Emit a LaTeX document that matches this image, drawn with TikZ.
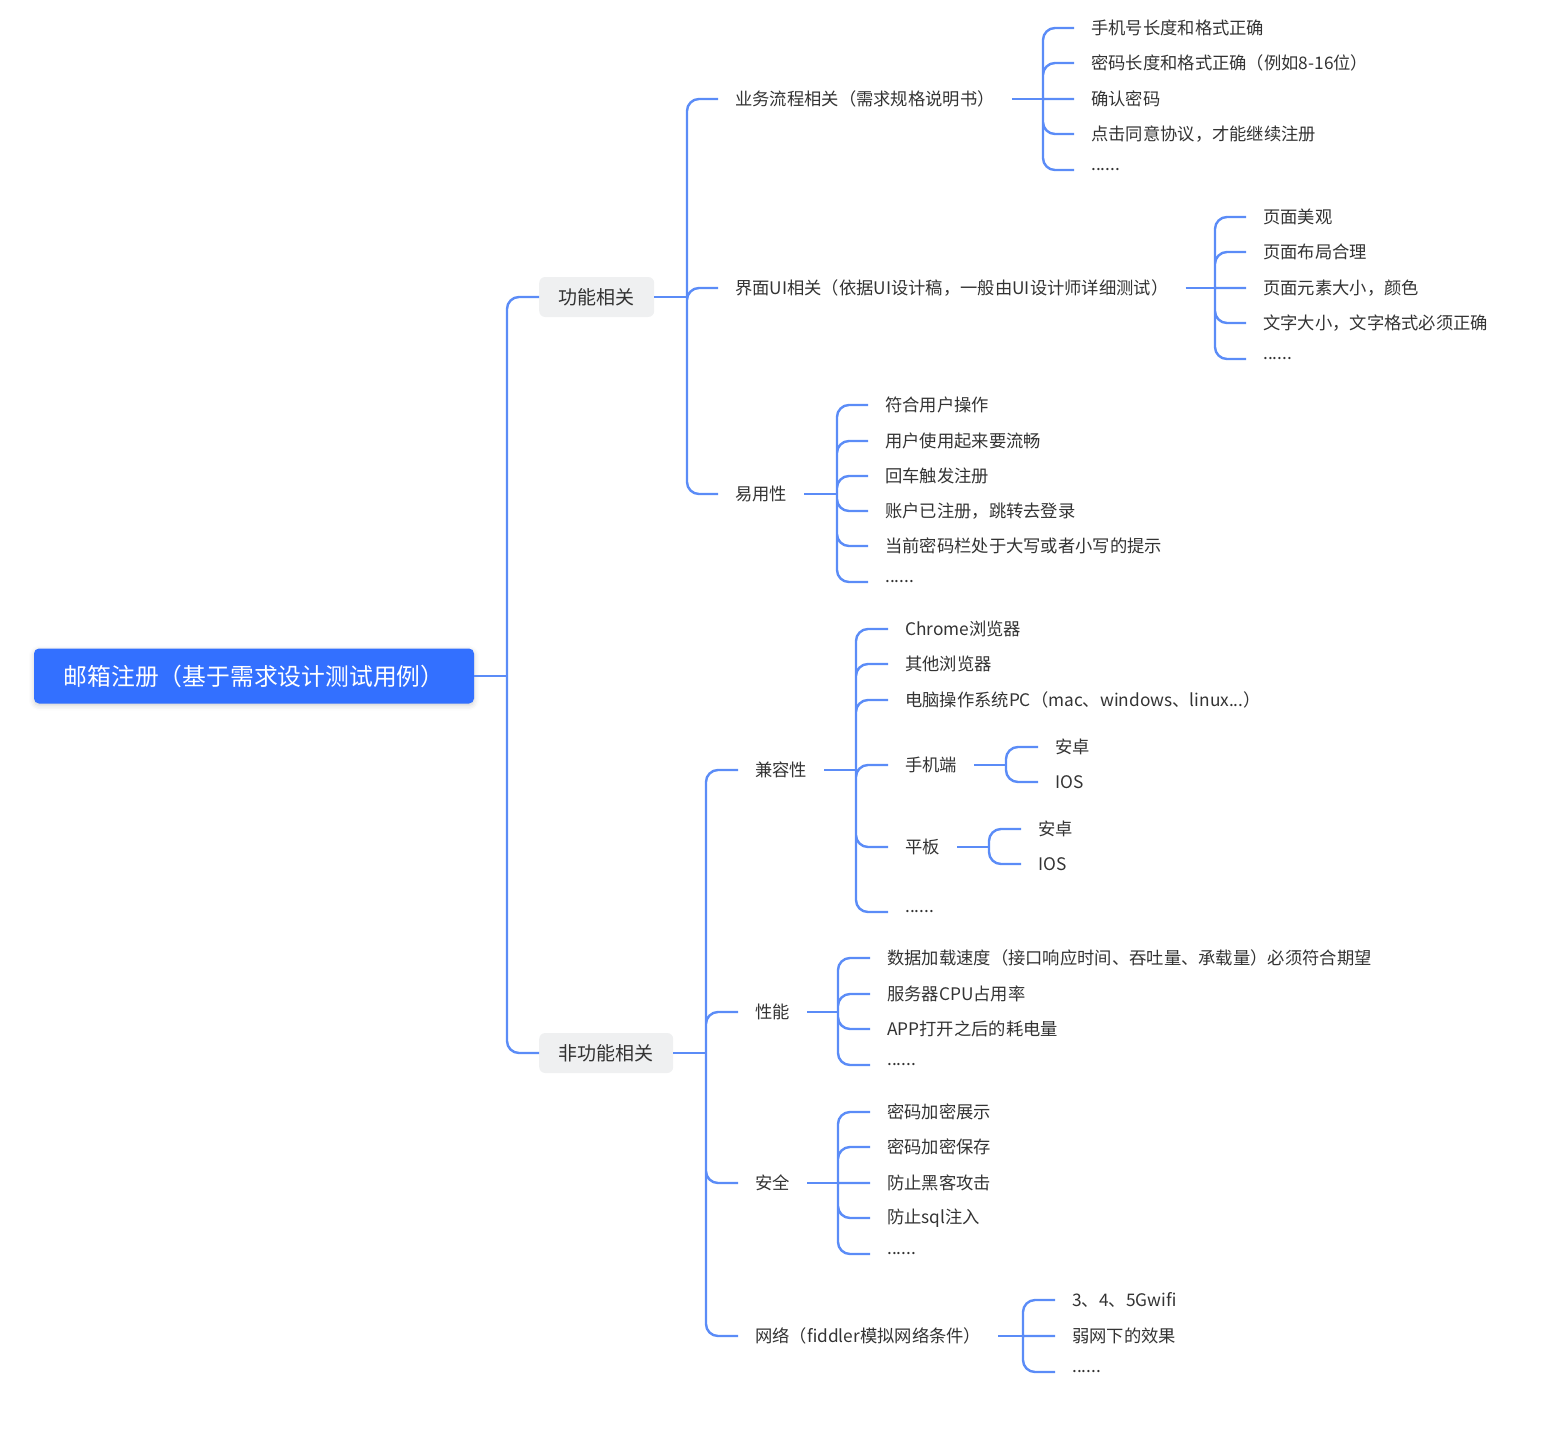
\documentclass[tikz,border=0pt]{standalone}
\usepackage{fontspec}
\setmainfont{Noto Sans CJK SC}
\usetikzlibrary{
  positioning,
  shadows.blur
}
\definecolor{mapBlue}{HTML}{3370FF}
\definecolor{mapLine}{HTML}{5B8CF7}
\definecolor{mapInk}{HTML}{333333}
\definecolor{mapGrey}{HTML}{EFF0F1}
\tikzset{
  every node/.style={font=\fontsize{17.3}{21}\selectfont, text=mapInk},
  rootbox/.style={
    rounded corners=5pt,
    fill=mapBlue,
    text=white,
    font=\fontsize{23.8}{28}\selectfont,
    minimum width=440,
    minimum height=55,
    blur shadow={shadow xshift=0pt, shadow yshift=-2pt, shadow opacity=18, shadow blur radius=5pt}
  },
  topicbox/.style={
    anchor=west,
    rounded corners=6pt,
    fill=mapGrey,
    font=\fontsize{19}{23}\selectfont,
    minimum height=40,
    inner xsep=19.5
  },
  leaf/.style={anchor=west, inner xsep=17, inner ysep=2},
  branch/.style={
    draw=mapLine,
    line width=2.4pt,
    rounded corners=12pt
  }
}

\begin{document}
\begin{tikzpicture}[x=1pt, y=-1pt]
  \useasboundingbox (0,0) rectangle (1549,1440);

  \node[rootbox] (root) at (254,676) {邮箱注册（基于需求设计测试用例）};

  \node[topicbox] (func) at (539,297) {功能相关};
  \node[topicbox] (nonfunc) at (539,1053) {非功能相关};

  \draw[branch] (root.east) -- (507,676);
  \draw[branch] (507,676) |- (func.west) (507,676) |- (nonfunc.west);

  % functional side
  \node[leaf] (flow) at (718,99) {业务流程相关（需求规格说明书）};
  \node[leaf] (ui) at (718,288) {界面UI相关（依据UI设计稿，一般由UI设计师详细测试）};
  \node[leaf] (usab) at (718,494) {易用性};

  \draw[branch] (func.east) -- (687,297);
  \draw[branch] (687,297) |- (flow.west) (687,297) |- (ui.west) (687,297) |- (usab.west);

  \node[leaf] (flow1) at (1074,28) {手机号长度和格式正确};
  \node[leaf] (flow2) at (1074,63) {密码长度和格式正确（例如8-16位）};
  \node[leaf] (flow3) at (1074,99) {确认密码};
  \node[leaf] (flow4) at (1074,134) {点击同意协议，才能继续注册};
  \node[leaf] (flow5) at (1074,170) {......};

  \draw[branch] (flow.east) -- (1043,99);
  \draw[branch] (1043,99) |- (flow1.west) (1043,99) |- (flow2.west)
    (1043,99) -- (flow3.west) (1043,99) |- (flow4.west) (1043,99) |- (flow5.west);

  \node[leaf] (ui1) at (1246,217) {页面美观};
  \node[leaf] (ui2) at (1246,252) {页面布局合理};
  \node[leaf] (ui3) at (1246,288) {页面元素大小，颜色};
  \node[leaf] (ui4) at (1246,323) {文字大小，文字格式必须正确};
  \node[leaf] (ui5) at (1246,359) {......};

  \draw[branch] (ui.east) -- (1215,288);
  \draw[branch] (1215,288) |- (ui1.west) (1215,288) |- (ui2.west)
    (1215,288) -- (ui3.west) (1215,288) |- (ui4.west) (1215,288) |- (ui5.west);

  \node[leaf] (usab1) at (868,405) {符合用户操作};
  \node[leaf] (usab2) at (868,441) {用户使用起来要流畅};
  \node[leaf] (usab3) at (868,476) {回车触发注册};
  \node[leaf] (usab4) at (868,511) {账户已注册，跳转去登录};
  \node[leaf] (usab5) at (868,546) {当前密码栏处于大写或者小写的提示};
  \node[leaf] (usab6) at (868,582) {......};

  \draw[branch] (usab.east) -- (837,494);
  \draw[branch] (837,494) |- (usab1.west) (837,494) |- (usab2.west) (837,494) |- (usab3.west)
    (837,494) |- (usab4.west) (837,494) |- (usab5.west) (837,494) |- (usab6.west);

  % non-functional side
  \node[leaf] (compat) at (738,770) {兼容性};
  \node[leaf] (perf) at (738,1012) {性能};
  \node[leaf] (sec) at (738,1183) {安全};
  \node[leaf] (net) at (738,1336) {网络（fiddler模拟网络条件）};

  \draw[branch] (nonfunc.east) -- (706,1053);
  \draw[branch] (706,1053) |- (compat.west) (706,1053) |- (perf.west)
    (706,1053) |- (sec.west) (706,1053) |- (net.west);

  \node[leaf] (compat1) at (888,629) {Chrome浏览器};
  \node[leaf] (compat2) at (888,664) {其他浏览器};
  \node[leaf] (compat3) at (888,700) {电脑操作系统PC（mac、windows、linux...）};
  \node[leaf] (mobile) at (888,765) {手机端};
  \node[leaf] (tablet) at (888,847) {平板};
  \node[leaf] (compat6) at (888,912) {......};

  \draw[branch] (compat.east) -- (856,770);
  \draw[branch] (856,770) |- (compat1.west) (856,770) |- (compat2.west) (856,770) |- (compat3.west)
    (856,770) |- (mobile.west) (856,770) |- (tablet.west) (856,770) |- (compat6.west);

  \node[leaf] (mobile1) at (1038,747) {安卓};
  \node[leaf] (mobile2) at (1038,782) {IOS};

  \draw[branch] (mobile.east) -- (1006,765);
  \draw[branch] (1006,765) |- (mobile1.west) (1006,765) |- (mobile2.west);

  \node[leaf] (tablet1) at (1021,829) {安卓};
  \node[leaf] (tablet2) at (1021,864) {IOS};

  \draw[branch] (tablet.east) -- (989,847);
  \draw[branch] (989,847) |- (tablet1.west) (989,847) |- (tablet2.west);

  \node[leaf] (perf1) at (870,958) {数据加载速度（接口响应时间、吞吐量、承载量）必须符合期望};
  \node[leaf] (perf2) at (870,994) {服务器CPU占用率};
  \node[leaf] (perf3) at (870,1029) {APP打开之后的耗电量};
  \node[leaf] (perf4) at (870,1065) {......};

  \draw[branch] (perf.east) -- (838,1012);
  \draw[branch] (838,1012) |- (perf1.west) (838,1012) |- (perf2.west)
    (838,1012) |- (perf3.west) (838,1012) |- (perf4.west);

  \node[leaf] (sec1) at (870,1112) {密码加密展示};
  \node[leaf] (sec2) at (870,1147) {密码加密保存};
  \node[leaf] (sec3) at (870,1183) {防止黑客攻击};
  \node[leaf] (sec4) at (870,1218) {防止sql注入};
  \node[leaf] (sec5) at (870,1254) {......};

  \draw[branch] (sec.east) -- (838,1183);
  \draw[branch] (838,1183) |- (sec1.west) (838,1183) |- (sec2.west)
    (838,1183) -- (sec3.west) (838,1183) |- (sec4.west) (838,1183) |- (sec5.west);

  \node[leaf] (net1) at (1055,1300) {3、4、5Gwifi};
  \node[leaf] (net2) at (1055,1336) {弱网下的效果};
  \node[leaf] (net3) at (1055,1372) {......};

  \draw[branch] (net.east) -- (1023,1336);
  \draw[branch] (1023,1336) |- (net1.west) (1023,1336) -- (net2.west) (1023,1336) |- (net3.west);
\end{tikzpicture}
\end{document}
